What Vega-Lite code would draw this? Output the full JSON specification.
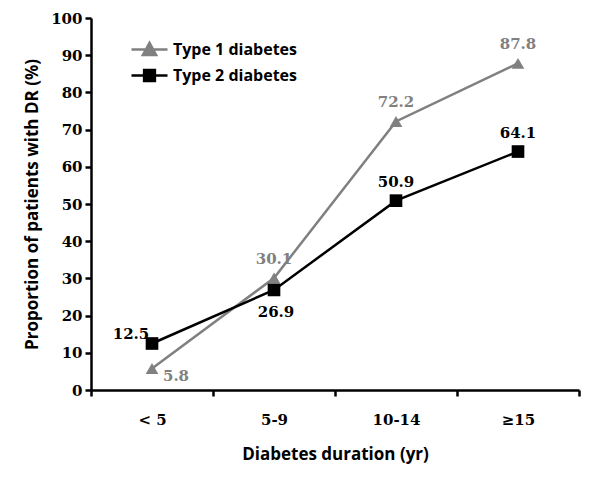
{
  "$schema": "https://vega.github.io/schema/vega-lite/v6.json",
  "width": 488,
  "height": 372,
  "autosize": "none",
  "padding": {"left": 91, "top": 18, "right": 21, "bottom": 88},
  "background": "white",
  "config": {
    "view": {"stroke": null},
    "legend": {
      "orient": "none",
      "legendX": 45,
      "legendY": 18,
      "padding": 0,
      "symbolSize": 576,
      "symbolOpacity": 1,
      "symbolStrokeWidth": 2.5,
      "labelOffset": 10,
      "rowPadding": 2,
      "labelFont": "Open Sans",
      "labelFontSize": 16,
      "labelFontWeight": "bold",
      "labelColor": "black"
    }
  },
  "data": {
    "values": [
      {"duration": "< 5", "series": "Type 1 diabetes", "value": 5.8},
      {"duration": "5-9", "series": "Type 1 diabetes", "value": 30.1},
      {"duration": "10-14", "series": "Type 1 diabetes", "value": 72.2},
      {"duration": "≥15", "series": "Type 1 diabetes", "value": 87.8},
      {"duration": "< 5", "series": "Type 2 diabetes", "value": 12.5},
      {"duration": "5-9", "series": "Type 2 diabetes", "value": 26.9},
      {"duration": "10-14", "series": "Type 2 diabetes", "value": 50.9},
      {"duration": "≥15", "series": "Type 2 diabetes", "value": 64.1}
    ]
  },
  "encoding": {
    "x": {
      "field": "duration",
      "type": "nominal",
      "sort": ["< 5", "5-9", "10-14", "≥15"],
      "scale": {"paddingInner": 0, "paddingOuter": 0},
      "axis": {
        "title": "Diabetes duration (yr)",
        "labelAngle": 0,
        "tickBand": "extent",
        "domainColor": "black",
        "domainWidth": 2.5,
        "tickColor": "black",
        "tickWidth": 2.5,
        "tickSize": 6,
        "labelFont": "DejaVu Serif",
        "labelFontSize": 15,
        "labelFontWeight": "bold",
        "labelColor": "black",
        "labelPadding": 16,
        "titleFont": "Open Sans",
        "titleFontSize": 17,
        "titleFontWeight": "bold",
        "titleColor": "black",
        "titlePadding": 19
      }
    },
    "y": {
      "field": "value",
      "type": "quantitative",
      "scale": {"domain": [0, 100], "nice": false, "zero": true},
      "axis": {
        "title": "Proportion of patients with DR (%)",
        "values": [0, 10, 20, 30, 40, 50, 60, 70, 80, 90, 100],
        "grid": false,
        "domainColor": "black",
        "domainWidth": 2.5,
        "tickColor": "black",
        "tickWidth": 2.5,
        "tickSize": 6,
        "labelFont": "DejaVu Serif",
        "labelFontSize": 15,
        "labelFontWeight": "bold",
        "labelColor": "black",
        "labelPadding": 3,
        "titleFont": "Open Sans",
        "titleFontSize": 17,
        "titleFontWeight": "bold",
        "titleColor": "black",
        "titlePadding": 9
      }
    }
  },
  "layer": [
    {
      "transform": [{"filter": "datum.value < 0"}],
      "mark": {"type": "point", "filled": false, "opacity": 1, "strokeWidth": 2.5},
      "encoding": {
        "color": {
          "field": "series",
          "type": "nominal",
          "title": null,
          "scale": {"domain": ["Type 1 diabetes", "Type 2 diabetes"], "range": ["#808080", "#000000"]}
        },
        "shape": {
          "field": "series",
          "type": "nominal",
          "title": null,
          "scale": {
            "domain": ["Type 1 diabetes", "Type 2 diabetes"],
            "range": [
              "M-1.5,0L1.5,0M0,-0.55L0.55,0.45L-0.55,0.45ZM0,-0.283L0.33,0.317L-0.33,0.317ZM0,-0.05L0.1375,0.2L-0.1375,0.2Z",
              "M-1.5,0L1.5,0M-0.45,-0.45L0.45,-0.45L0.45,0.45L-0.45,0.45ZM-0.25,-0.25L0.25,-0.25L0.25,0.25L-0.25,0.25ZM-0.07,-0.07L0.07,-0.07L0.07,0.07L-0.07,0.07Z"
            ]
          }
        }
      }
    },
    {
      "mark": {"type": "line", "strokeWidth": 2.5},
      "encoding": {
        "color": {"field": "series", "type": "nominal", "title": null}
      }
    },
    {
      "transform": [{"filter": "datum.series === 'Type 1 diabetes'"}],
      "mark": {"type": "point", "filled": true, "opacity": 1, "size": 160, "shape": "triangle-up", "color": "#808080"},
      "encoding": {}
    },
    {
      "transform": [{"filter": "datum.series === 'Type 2 diabetes'"}],
      "mark": {"type": "point", "filled": true, "opacity": 1, "size": 160, "shape": "square", "color": "#000000"},
      "encoding": {}
    },
    {
      "transform": [{"filter": "datum.series === 'Type 1 diabetes' && datum.duration !== '< 5'"}],
      "mark": {"type": "text", "font": "DejaVu Serif", "fontSize": 15, "fontWeight": "bold", "color": "#808080", "dy": -19},
      "encoding": {"text": {"field": "value", "type": "quantitative", "format": ".1f"}}
    },
    {
      "transform": [{"filter": "datum.series === 'Type 1 diabetes' && datum.duration === '< 5'"}],
      "mark": {"type": "text", "font": "DejaVu Serif", "fontSize": 15, "fontWeight": "bold", "color": "#808080", "dx": 24, "dy": 8},
      "encoding": {"text": {"field": "value", "type": "quantitative", "format": ".1f"}}
    },
    {
      "transform": [{"filter": "datum.series === 'Type 2 diabetes' && (datum.duration === '10-14' || datum.duration === '≥15')"}],
      "mark": {"type": "text", "font": "DejaVu Serif", "fontSize": 15, "fontWeight": "bold", "color": "black", "dy": -19},
      "encoding": {"text": {"field": "value", "type": "quantitative", "format": ".1f"}}
    },
    {
      "transform": [{"filter": "datum.series === 'Type 2 diabetes' && datum.duration === '< 5'"}],
      "mark": {"type": "text", "font": "DejaVu Serif", "fontSize": 15, "fontWeight": "bold", "color": "black", "dx": -21, "dy": -10},
      "encoding": {"text": {"field": "value", "type": "quantitative", "format": ".1f"}}
    },
    {
      "transform": [{"filter": "datum.series === 'Type 2 diabetes' && datum.duration === '5-9'"}],
      "mark": {"type": "text", "font": "DejaVu Serif", "fontSize": 15, "fontWeight": "bold", "color": "black", "dx": 2, "dy": 22},
      "encoding": {"text": {"field": "value", "type": "quantitative", "format": ".1f"}}
    }
  ]
}
